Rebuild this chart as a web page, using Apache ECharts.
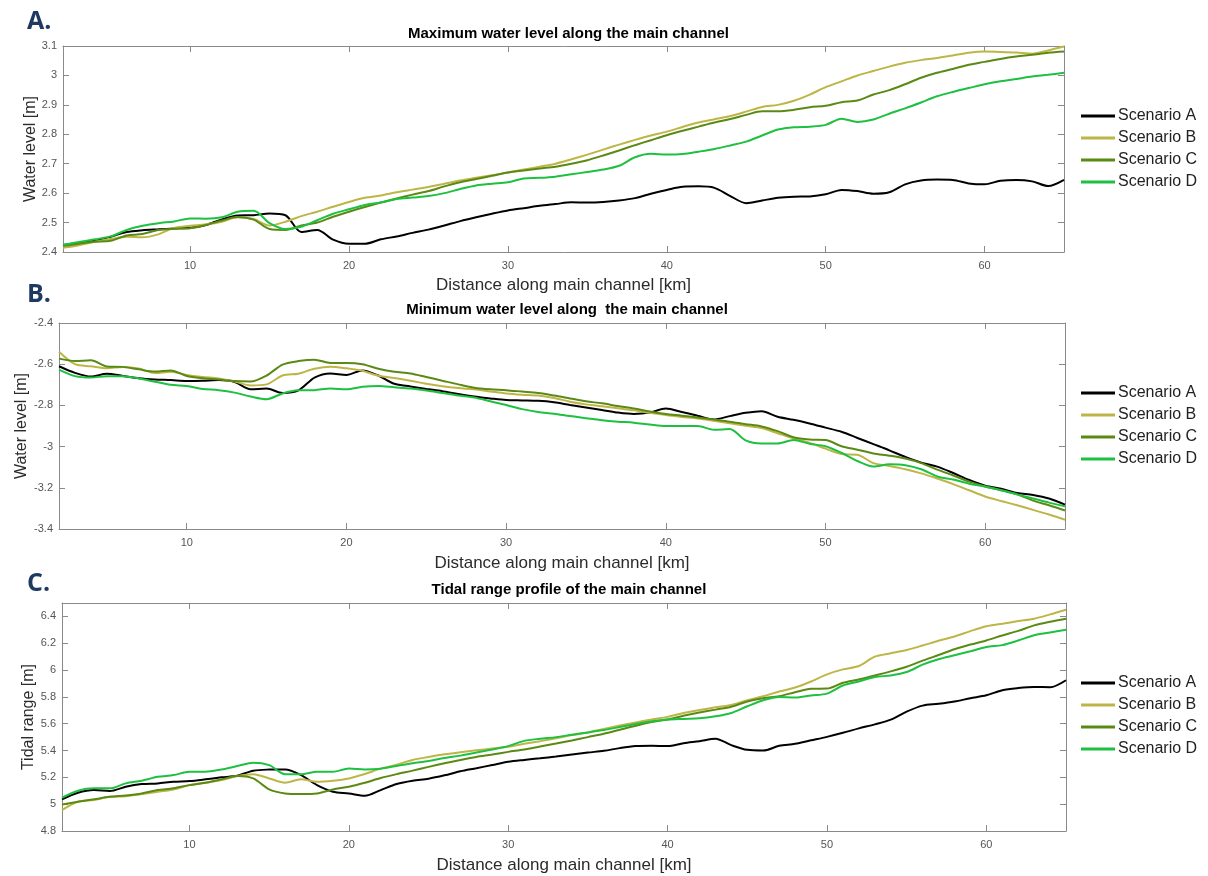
<!DOCTYPE html>
<html>
<head>
<meta charset="utf-8">
<script src="https://cdn.jsdelivr.net/npm/echarts@6/dist/echarts.min.js"></script>
<style>
  html, body { margin: 0; padding: 0; background: #ffffff; }
  #chart { width: 1208px; height: 876px; }
</style>
</head>
<body>
<div id="chart"></div>
<script>
// Distance along the main channel [km]
const distanceKm = [2,3,4,5,6,7,8,9,10,11,12,13,14,15,16,17,18,19,20,21,22,23,24,25,26,27,28,29,30,31,32,33,
  34,35,36,37,38,39,40,41,42,43,44,45,46,47,48,49,50,51,52,53,54,55,56,57,58,59,60,61,62,63,64,65];

const scenarioNames = ['Scenario A', 'Scenario B', 'Scenario C', 'Scenario D'];
const scenarioColors = ['#000000', '#bdb646', '#5a8a14', '#1ec040'];

// Maximum water level [m]
const maxLevelA = [2.424,2.431,2.438,2.452,2.468,2.474,2.477,2.480,2.482,2.492,2.511,2.524,2.525,2.531,2.525,2.468,2.475,2.442,2.428,2.428,2.443,2.453,2.465,2.476,2.490,2.505,2.518,2.530,2.541,2.549,2.557,2.563,
  2.569,2.568,2.570,2.575,2.583,2.598,2.611,2.622,2.623,2.618,2.590,2.566,2.575,2.584,2.588,2.589,2.596,2.611,2.607,2.598,2.603,2.630,2.643,2.646,2.645,2.633,2.630,2.642,2.645,2.640,2.624,2.645];
const maxLevelB = [2.414,2.423,2.435,2.444,2.452,2.450,2.460,2.482,2.489,2.494,2.503,2.518,2.512,2.490,2.503,2.522,2.537,2.554,2.570,2.584,2.592,2.603,2.612,2.621,2.632,2.643,2.652,2.661,2.670,2.680,2.690,2.700,
  2.715,2.731,2.748,2.765,2.781,2.796,2.809,2.825,2.840,2.851,2.862,2.877,2.893,2.900,2.914,2.935,2.960,2.980,3.000,3.015,3.030,3.043,3.052,3.059,3.068,3.077,3.081,3.080,3.078,3.074,3.085,3.098];
const maxLevelC = [2.420,2.428,2.435,2.438,2.456,2.461,2.475,2.479,2.481,2.492,2.507,2.519,2.510,2.478,2.475,2.490,2.500,2.520,2.537,2.553,2.568,2.582,2.595,2.607,2.623,2.637,2.648,2.659,2.670,2.677,2.684,2.690,
  2.700,2.712,2.728,2.745,2.763,2.780,2.797,2.812,2.826,2.840,2.852,2.866,2.878,2.878,2.883,2.892,2.897,2.909,2.915,2.935,2.950,2.970,2.992,3.009,3.022,3.036,3.046,3.056,3.064,3.070,3.077,3.081];
const maxLevelD = [2.424,2.434,2.443,2.453,2.475,2.489,2.498,2.504,2.514,2.513,2.518,2.537,2.540,2.498,2.478,2.486,2.508,2.530,2.545,2.560,2.568,2.580,2.585,2.590,2.600,2.614,2.626,2.632,2.637,2.650,2.652,2.656,
  2.664,2.672,2.680,2.693,2.722,2.734,2.731,2.733,2.741,2.750,2.762,2.775,2.796,2.816,2.824,2.826,2.832,2.853,2.842,2.850,2.870,2.888,2.908,2.929,2.944,2.957,2.970,2.980,2.988,2.996,3.002,3.009];

// Minimum water level [m]
const minLevelA = [-2.610,-2.642,-2.660,-2.646,-2.657,-2.668,-2.674,-2.677,-2.681,-2.680,-2.677,-2.686,-2.722,-2.718,-2.740,-2.727,-2.665,-2.645,-2.652,-2.630,-2.655,-2.695,-2.708,-2.720,-2.731,-2.745,-2.757,-2.766,-2.774,-2.776,-2.778,-2.785,
  -2.798,-2.810,-2.822,-2.835,-2.842,-2.835,-2.815,-2.832,-2.850,-2.868,-2.852,-2.836,-2.828,-2.855,-2.870,-2.888,-2.908,-2.928,-2.958,-2.988,-3.018,-3.050,-3.078,-3.097,-3.128,-3.162,-3.190,-3.205,-3.225,-3.235,-3.252,-3.282];
const minLevelB = [-2.540,-2.600,-2.610,-2.620,-2.613,-2.621,-2.643,-2.637,-2.652,-2.662,-2.669,-2.684,-2.703,-2.698,-2.655,-2.646,-2.622,-2.612,-2.620,-2.632,-2.656,-2.667,-2.680,-2.695,-2.707,-2.716,-2.722,-2.732,-2.742,-2.748,-2.752,-2.764,
  -2.782,-2.795,-2.804,-2.814,-2.824,-2.836,-2.847,-2.856,-2.864,-2.875,-2.887,-2.899,-2.910,-2.935,-2.960,-2.982,-3.010,-3.036,-3.040,-3.080,-3.094,-3.110,-3.130,-3.155,-3.182,-3.212,-3.242,-3.264,-3.285,-3.307,-3.330,-3.355];
const minLevelC = [-2.573,-2.585,-2.581,-2.611,-2.613,-2.625,-2.636,-2.630,-2.657,-2.668,-2.674,-2.682,-2.684,-2.655,-2.602,-2.585,-2.578,-2.594,-2.594,-2.600,-2.622,-2.637,-2.645,-2.662,-2.680,-2.698,-2.714,-2.722,-2.726,-2.733,-2.740,-2.752,
  -2.766,-2.780,-2.790,-2.803,-2.815,-2.830,-2.842,-2.850,-2.859,-2.869,-2.879,-2.891,-2.902,-2.925,-2.955,-2.966,-2.968,-2.998,-3.015,-3.033,-3.044,-3.058,-3.080,-3.112,-3.140,-3.170,-3.194,-3.212,-3.232,-3.262,-3.285,-3.310];
const minLevelD = [-2.626,-2.658,-2.665,-2.658,-2.658,-2.669,-2.685,-2.700,-2.706,-2.720,-2.726,-2.738,-2.757,-2.770,-2.742,-2.727,-2.726,-2.718,-2.722,-2.710,-2.706,-2.712,-2.718,-2.728,-2.740,-2.752,-2.762,-2.780,-2.798,-2.818,-2.832,-2.840,
  -2.852,-2.862,-2.872,-2.879,-2.884,-2.893,-2.900,-2.900,-2.900,-2.918,-2.915,-2.970,-2.985,-2.985,-2.968,-2.986,-2.998,-3.030,-3.070,-3.097,-3.086,-3.090,-3.110,-3.145,-3.160,-3.180,-3.194,-3.212,-3.232,-3.252,-3.272,-3.290];

// Tidal range [m]
const tidalRangeA = [5.036,5.085,5.105,5.098,5.130,5.150,5.155,5.167,5.172,5.185,5.200,5.212,5.250,5.258,5.259,5.217,5.142,5.093,5.080,5.062,5.105,5.150,5.175,5.190,5.215,5.245,5.268,5.292,5.316,5.330,5.342,5.355,
  5.370,5.385,5.398,5.418,5.433,5.436,5.433,5.455,5.470,5.488,5.440,5.405,5.400,5.435,5.450,5.476,5.502,5.532,5.565,5.595,5.630,5.690,5.735,5.748,5.765,5.790,5.812,5.850,5.866,5.874,5.872,5.924];
const tidalRangeB = [4.956,5.018,5.031,5.055,5.060,5.075,5.093,5.110,5.142,5.160,5.180,5.210,5.224,5.192,5.160,5.185,5.167,5.175,5.192,5.225,5.265,5.295,5.330,5.352,5.372,5.388,5.402,5.415,5.428,5.450,5.470,5.492,
  5.515,5.535,5.560,5.586,5.610,5.632,5.651,5.680,5.702,5.722,5.740,5.775,5.805,5.840,5.870,5.915,5.968,6.005,6.030,6.100,6.125,6.150,6.183,6.218,6.250,6.290,6.326,6.345,6.365,6.383,6.415,6.450];
const tidalRangeC = [4.998,5.018,5.036,5.055,5.065,5.080,5.105,5.118,5.142,5.160,5.185,5.210,5.192,5.110,5.080,5.075,5.080,5.110,5.130,5.160,5.195,5.224,5.250,5.278,5.305,5.330,5.352,5.370,5.390,5.408,5.430,5.452,
  5.475,5.500,5.525,5.555,5.585,5.612,5.631,5.660,5.683,5.705,5.727,5.765,5.790,5.805,5.835,5.860,5.862,5.905,5.930,5.960,5.990,6.025,6.070,6.112,6.155,6.190,6.221,6.258,6.292,6.333,6.360,6.383];
const tidalRangeD = [5.048,5.100,5.118,5.118,5.155,5.175,5.204,5.217,5.242,5.242,5.259,5.284,5.309,5.291,5.224,5.224,5.242,5.242,5.266,5.259,5.265,5.285,5.305,5.322,5.345,5.362,5.385,5.408,5.433,5.472,5.488,5.500,
  5.518,5.535,5.553,5.575,5.598,5.618,5.631,5.636,5.640,5.655,5.680,5.730,5.775,5.800,5.795,5.810,5.824,5.885,5.915,5.948,5.960,5.985,6.040,6.080,6.110,6.140,6.172,6.186,6.220,6.259,6.280,6.301];

// Tick values
const distanceTicks = [10, 20, 30, 40, 50, 60];
const maxLevelTicks = [2.4, 2.5, 2.6, 2.7, 2.8, 2.9, 3, 3.1];
const minLevelTicks = [-3.4, -3.2, -3, -2.8, -2.6, -2.4];
const tidalRangeTicks = [4.8, 5, 5.2, 5.4, 5.6, 5.8, 6, 6.2, 6.4];

const panels = [
  { label: 'A.', title: 'Maximum water level along the main channel', yName: 'Water level [m]',
    values: [maxLevelA, maxLevelB, maxLevelC, maxLevelD], yTicks: maxLevelTicks, yMin: 2.4, yMax: 3.1,
    grid: { left: 63, right: 144, top: 46, height: 206 }, titleY: 21, labelY: 4, legendTop: 108, yNameGap: 24, xNameGap: 25 },
  { label: 'B.', title: 'Minimum water level along  the main channel', yName: 'Water level [m]',
    values: [minLevelA, minLevelB, minLevelC, minLevelD], yTicks: minLevelTicks, yMin: -3.4, yMax: -2.4,
    grid: { left: 59, right: 143, top: 323, height: 206 }, titleY: 297, labelY: 277, legendTop: 385, yNameGap: 29, xNameGap: 26 },
  { label: 'C.', title: 'Tidal range profile of the main channel', yName: 'Tidal range [m]',
    values: [tidalRangeA, tidalRangeB, tidalRangeC, tidalRangeD], yTicks: tidalRangeTicks, yMin: 4.8, yMax: 6.5,
    grid: { left: 62, right: 142, top: 603, height: 228 }, titleY: 577, labelY: 566, legendTop: 675, yNameGap: 25, xNameGap: 26 }
];

const FONT = '"Liberation Sans", Arial, sans-serif';
const AXIS_GRAY = '#8a8a8a';
const LABEL_GRAY = '#555555';
const NAME_GRAY = '#2b2b2b';

const grids = [], xAxes = [], yAxes = [], series = [], titles = [], legends = [];

panels.forEach((p, i) => {
  grids.push(Object.assign({ containLabel: false, show: false }, p.grid));

  const tickInside = { show: true, inside: true, length: 6, lineStyle: { color: AXIS_GRAY, width: 1 } };
  const xBase = { type: 'value', gridIndex: i, min: 2, max: 65, splitLine: { show: false },
    axisLine: { show: true, onZero: false, lineStyle: { color: AXIS_GRAY, width: 1 } } };
  xAxes.push(Object.assign({}, xBase, {
    position: 'bottom',
    axisTick: Object.assign({ customValues: distanceTicks }, tickInside),
    axisLabel: { customValues: distanceTicks, color: LABEL_GRAY, fontSize: 11, fontFamily: FONT, margin: 8 },
    name: 'Distance along main channel [km]', nameLocation: 'middle', nameGap: p.xNameGap,
    nameTextStyle: { fontSize: 17, color: NAME_GRAY, fontFamily: FONT, verticalAlign: 'top' }
  }));
  xAxes.push(Object.assign({}, xBase, {
    position: 'top',
    axisTick: Object.assign({ customValues: distanceTicks }, tickInside),
    axisLabel: { show: false }
  }));

  const yBase = { type: 'value', gridIndex: i, min: p.yMin, max: p.yMax, splitLine: { show: false },
    axisLine: { show: true, onZero: false, lineStyle: { color: AXIS_GRAY, width: 1 } } };
  yAxes.push(Object.assign({}, yBase, {
    position: 'left',
    axisTick: Object.assign({ customValues: p.yTicks }, tickInside),
    axisLabel: { customValues: p.yTicks, color: LABEL_GRAY, fontSize: 11, fontFamily: FONT, margin: 6 },
    name: p.yName, nameLocation: 'middle', nameGap: p.yNameGap, nameMoveOverlap: false,
    nameTextStyle: { fontSize: 16, color: NAME_GRAY, fontFamily: FONT }
  }));
  yAxes.push(Object.assign({}, yBase, {
    position: 'right',
    axisTick: Object.assign({ customValues: p.yTicks }, tickInside),
    axisLabel: { show: false }
  }));

  const plotCenter = p.grid.left + (1208 - p.grid.left - p.grid.right) / 2;
  titles.push({ text: p.title, left: plotCenter, top: p.titleY, textAlign: 'center',
    textStyle: { fontSize: 15, fontWeight: 'bold', color: '#000000', fontFamily: FONT } });
  titles.push({ text: p.label, left: 22, top: p.labelY,
    textStyle: { fontSize: 25, fontWeight: 'bold', color: '#1f3a60', fontFamily: '"Open Sans", sans-serif' } });

  legends.push({ data: scenarioNames, orient: 'vertical', left: 1081, top: p.legendTop,
    icon: 'rect', itemWidth: 34, itemHeight: 3, itemGap: 6, padding: 0, selectedMode: false,
    textStyle: { fontSize: 16, color: '#222222', fontFamily: FONT, padding: [0, 0, 0, -2] } });

  p.values.forEach((vals, s) => {
    series.push({
      name: scenarioNames[s], type: 'line', xAxisIndex: i * 2, yAxisIndex: i * 2,
      data: distanceKm.map((d, k) => [d, vals[k]]),
      showSymbol: false, smooth: 0.3, animation: false,
      lineStyle: { color: scenarioColors[s], width: 2 },
      itemStyle: { color: scenarioColors[s] }
    });
  });
});

const chart = echarts.init(document.getElementById('chart'), null, { renderer: 'canvas' });
chart.setOption({
  animation: false,
  backgroundColor: '#ffffff',
  title: titles,
  legend: legends,
  grid: grids,
  xAxis: xAxes,
  yAxis: yAxes,
  series: series
});
</script>
</body>
</html>
